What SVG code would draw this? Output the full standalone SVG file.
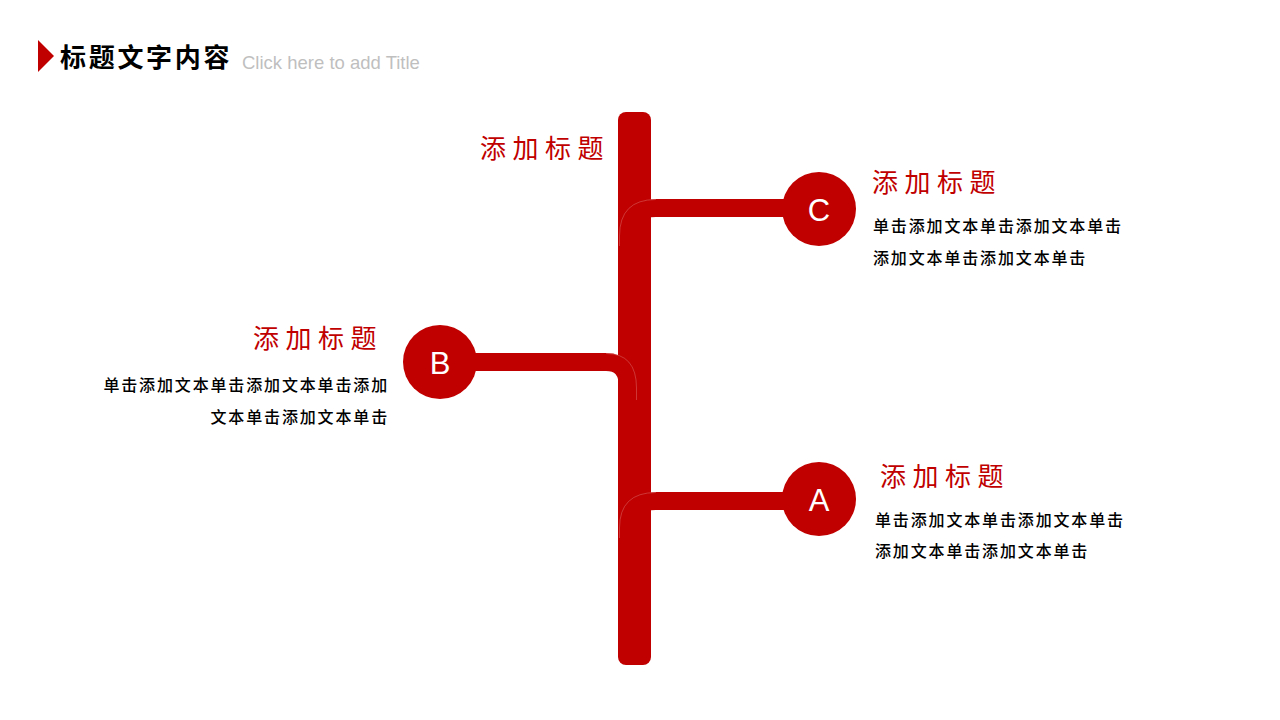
<svg xmlns="http://www.w3.org/2000/svg" width="1280" height="720" viewBox="0 0 1280 720">
<style>
.red{fill:#C00000}
.branch{fill:none;stroke:#C00000;stroke-width:18;stroke-linecap:butt}
.edge{fill:none;stroke:#E89A9A;stroke-width:0.7;opacity:0.5}
.head{font-family:"Noto Sans CJK SC",sans-serif;font-size:26px;fill:#C00000;letter-spacing:6.5px}
.body{font-family:"Noto Sans CJK SC",sans-serif;font-size:16px;fill:#000;letter-spacing:1.85px;font-weight:500}
.lbl{font-family:"Liberation Sans",Arial,sans-serif;font-size:31px;fill:#fff;text-anchor:middle}
</style>
<rect width="1280" height="720" fill="#fff"/>
<g id="title">
<polygon points="38,40 54,56 38,72" class="red"/>
<text x="60" y="67" font-family="Noto Sans CJK SC,sans-serif" font-size="26" font-weight="bold" letter-spacing="2.7" fill="#000">标题文字内容</text>
<text x="242" y="69" font-family="Liberation Sans,Arial,sans-serif" font-size="18.5" fill="#BFBFBF">Click here to add Title</text>
</g>
<g id="trunk">
<rect x="618" y="112" width="33" height="553" rx="8" class="red"/>
<text class="head" x="480" y="158">添加标题</text>
</g>
<g id="connectors">
<path class="branch" d="M628 262 L628 236 Q628 208 656 208 L800 208"/>
<path class="edge" d="M619.5 246 L619.5 236 Q619.5 199.5 656 199.5"/>
<path class="branch" d="M470 362 L606 362 Q628 362 628 388 L628 400"/>
<path class="edge" d="M606 353.5 Q636.5 353.5 636.5 388 L636.5 400"/>
<path class="branch" d="M628 556 L628 528 Q628 501 656 501 L800 501"/>
<path class="edge" d="M619.5 538 L619.5 528 Q619.5 492.5 656 492.5"/>
</g>
<g id="node-c">
<circle cx="819" cy="209" r="37" class="red"/>
<text class="lbl" x="819" y="221">C</text>
<text class="head" x="872" y="192">添加标题</text>
<text class="body" x="873" y="232">单击添加文本单击添加文本单击</text>
<text class="body" x="873" y="264">添加文本单击添加文本单击</text>
</g>
<g id="node-b">
<circle cx="440" cy="362" r="37" class="red"/>
<text class="lbl" x="440" y="374">B</text>
<text class="head" x="253" y="348">添加标题</text>
<text class="body" x="389" y="391" text-anchor="end">单击添加文本单击添加文本单击添加</text>
<text class="body" x="389" y="423" text-anchor="end">文本单击添加文本单击</text>
</g>
<g id="node-a">
<circle cx="819" cy="499" r="37" class="red"/>
<text class="lbl" x="819" y="511">A</text>
<text class="head" x="880" y="486">添加标题</text>
<text class="body" x="875" y="526">单击添加文本单击添加文本单击</text>
<text class="body" x="875" y="557">添加文本单击添加文本单击</text>
</g>
</svg>
